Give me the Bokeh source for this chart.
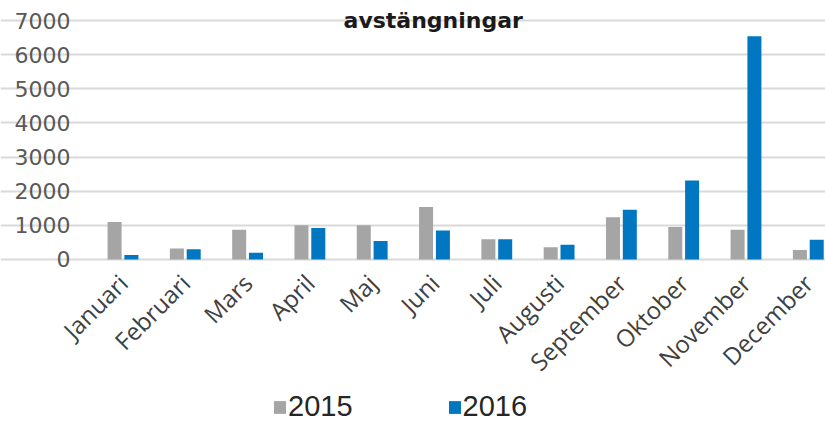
from bokeh.plotting import figure
from bokeh.models import ColumnDataSource, FixedTicker, Range1d, Label, Legend, LegendItem
from bokeh.transform import dodge
from bokeh.embed import file_html
from bokeh.resources import INLINE

# ---- data ----
months = ["Januari", "Februari", "Mars", "April", "Maj", "Juni", "Juli",
          "Augusti", "September", "Oktober", "November", "December"]
v2015 = [1100, 320, 870, 1000, 1000, 1540, 590, 360, 1240, 950, 870, 280]
v2016 = [130, 300, 200, 920, 540, 850, 590, 430, 1460, 2310, 6540, 580]
y_ticks = [0, 1000, 2000, 3000, 4000, 5000, 6000, 7000]
series_names = ["2015", "2016"]
title_text = "avstängningar"

GRAY = "#A5A5A5"
BLUE = "#0077C0"
LABEL = "#595959"

X0, X1 = -1.966, 11.276      # whole canvas width
PLOT_LEFT = -0.506           # where the gridlines start

src = ColumnDataSource(dict(x=list(range(len(months))), a=v2015, b=v2016))

# frame spans the whole canvas; 0 sits at 259 px, 7000 at 20 px
p = figure(width=825, height=423, output_backend="svg", toolbar_location=None,
           x_range=Range1d(X0, X1), y_range=Range1d(-4804, 7586),
           min_border_left=0, min_border_right=0, min_border_top=0,
           min_border_bottom=0)
p.outline_line_color = None
p.background_fill_color = "white"

r1 = p.vbar(x=dodge("x", -0.135, range=p.x_range), top="a", width=0.225,
            source=src, fill_color=GRAY, line_color=None)
r2 = p.vbar(x=dodge("x", 0.135, range=p.x_range), top="b", width=0.225,
            source=src, fill_color=BLUE, line_color=None)

# axes
p.xaxis.fixed_location = 0
p.xaxis.ticker = FixedTicker(ticks=list(range(len(months))))
p.xaxis.major_label_overrides = {i: m for i, m in enumerate(months)}
p.xaxis.major_label_orientation = 0.785398
p.xaxis.axis_line_color = None
p.xaxis.major_tick_line_color = None
p.xaxis.minor_tick_line_color = None
p.xaxis.major_label_standoff = 13
p.xaxis.major_label_text_font = "Open Sans"
p.xaxis.major_label_text_font_size = "24px"
p.xaxis.major_label_text_color = "#404040"

p.yaxis.fixed_location = PLOT_LEFT
p.yaxis.ticker = FixedTicker(ticks=y_ticks)
p.yaxis.axis_line_color = None
p.yaxis.major_tick_line_color = None
p.yaxis.minor_tick_line_color = None
p.yaxis.major_tick_out = 0
p.yaxis.major_label_standoff = 21
p.yaxis.major_label_text_font = "DejaVu Sans"
p.yaxis.major_label_text_font_size = "22px"
p.yaxis.major_label_text_color = LABEL

p.xgrid.grid_line_color = None
p.ygrid.ticker = FixedTicker(ticks=y_ticks)
p.ygrid.bounds = (PLOT_LEFT, X1)
p.ygrid.grid_line_color = "#D9D9D9"
p.ygrid.grid_line_width = 2

# title
p.add_layout(Label(x=4.98, y=7000, y_offset=0, text=title_text,
                   text_align="center", text_baseline="alphabetic",
                   text_font="DejaVu Sans", text_font_style="bold",
                   text_font_size="22px", text_color="#1a1a1a"))

legend = Legend(items=[LegendItem(label=series_names[0], renderers=[r1]),
                       LegendItem(label=series_names[1], renderers=[r2])],
                orientation="horizontal", location=(272, 0),
                glyph_width=15, glyph_height=16, label_standoff=1, spacing=94,
                padding=0, margin=0, border_line_color=None,
                background_fill_alpha=0,
                label_text_font="Liberation Sans", label_text_font_size="29px",
                label_text_color="#262626")
p.add_layout(legend, "center")

open("out.html", "w").write(file_html(p, INLINE))
